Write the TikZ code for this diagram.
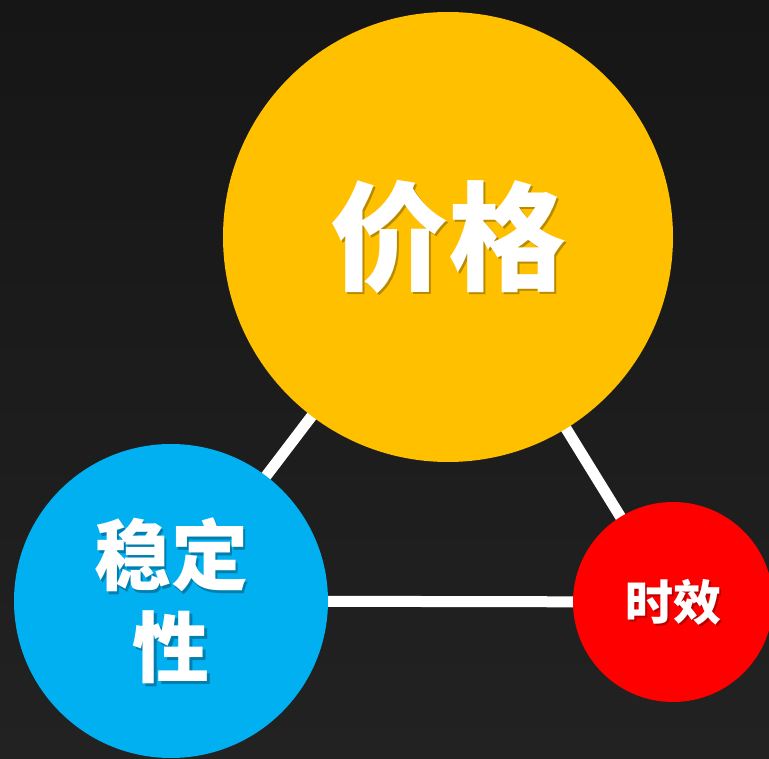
\documentclass[tikz,border=0pt]{standalone}
\usepackage{fontspec}
\newfontfamily\cjk{Noto Sans CJK SC}
\definecolor{bgtop}{HTML}{161616}
\definecolor{bgbot}{HTML}{222222}
\definecolor{goldc}{HTML}{FFC000}
\definecolor{bluec}{HTML}{00B0F0}
\definecolor{redc}{HTML}{FF0000}
\pgfdeclarelayer{back}
\pgfdeclarelayer{links}
\pgfsetlayers{back,links,main}
\tikzset{
  ball/.style={circle, inner sep=0pt, minimum size=#1},
  link/.style={white, line width=11pt},
  word/.style={text=white, align=center, inner sep=0pt},
  wordshadow/.style={text=black, opacity=0.28, align=center, inner sep=0pt}
}
\begin{document}
\begin{tikzpicture}[x=1pt,y=-1pt]
\useasboundingbox (0,0) rectangle (769,759);
\begin{pgfonlayer}{back}
  \shade[top color=bgtop, bottom color=bgbot] (0,0) rectangle (769,759);
\end{pgfonlayer}

% three circles
\node[ball=450pt, fill=goldc] (price) at (448,237) {};
\node[ball=314pt, fill=bluec] (stab) at (171,601) {};
\node[ball=200pt, fill=redc] (time) at (673,602) {};

% white links between the centres
\begin{pgfonlayer}{links}
\foreach \a/\b in {price/stab, stab/time, time/price} {
  \draw[link] (\a.center) -- (\b.center);
}
\end{pgfonlayer}

% labels with a soft shadow
\foreach \n/\t/\s/\k in {price/{价格}/118/140, stab/{稳定\\性}/77/92, time/{时效}/48/58} {
  \node[wordshadow, font=\cjk\bfseries\fontsize{\s}{\k}\selectfont] at ([shift={(2.5,2.5)}]\n.center) {\t};
  \node[word, font=\cjk\bfseries\fontsize{\s}{\k}\selectfont] at (\n.center) {\t};
}
\end{tikzpicture}
\end{document}
